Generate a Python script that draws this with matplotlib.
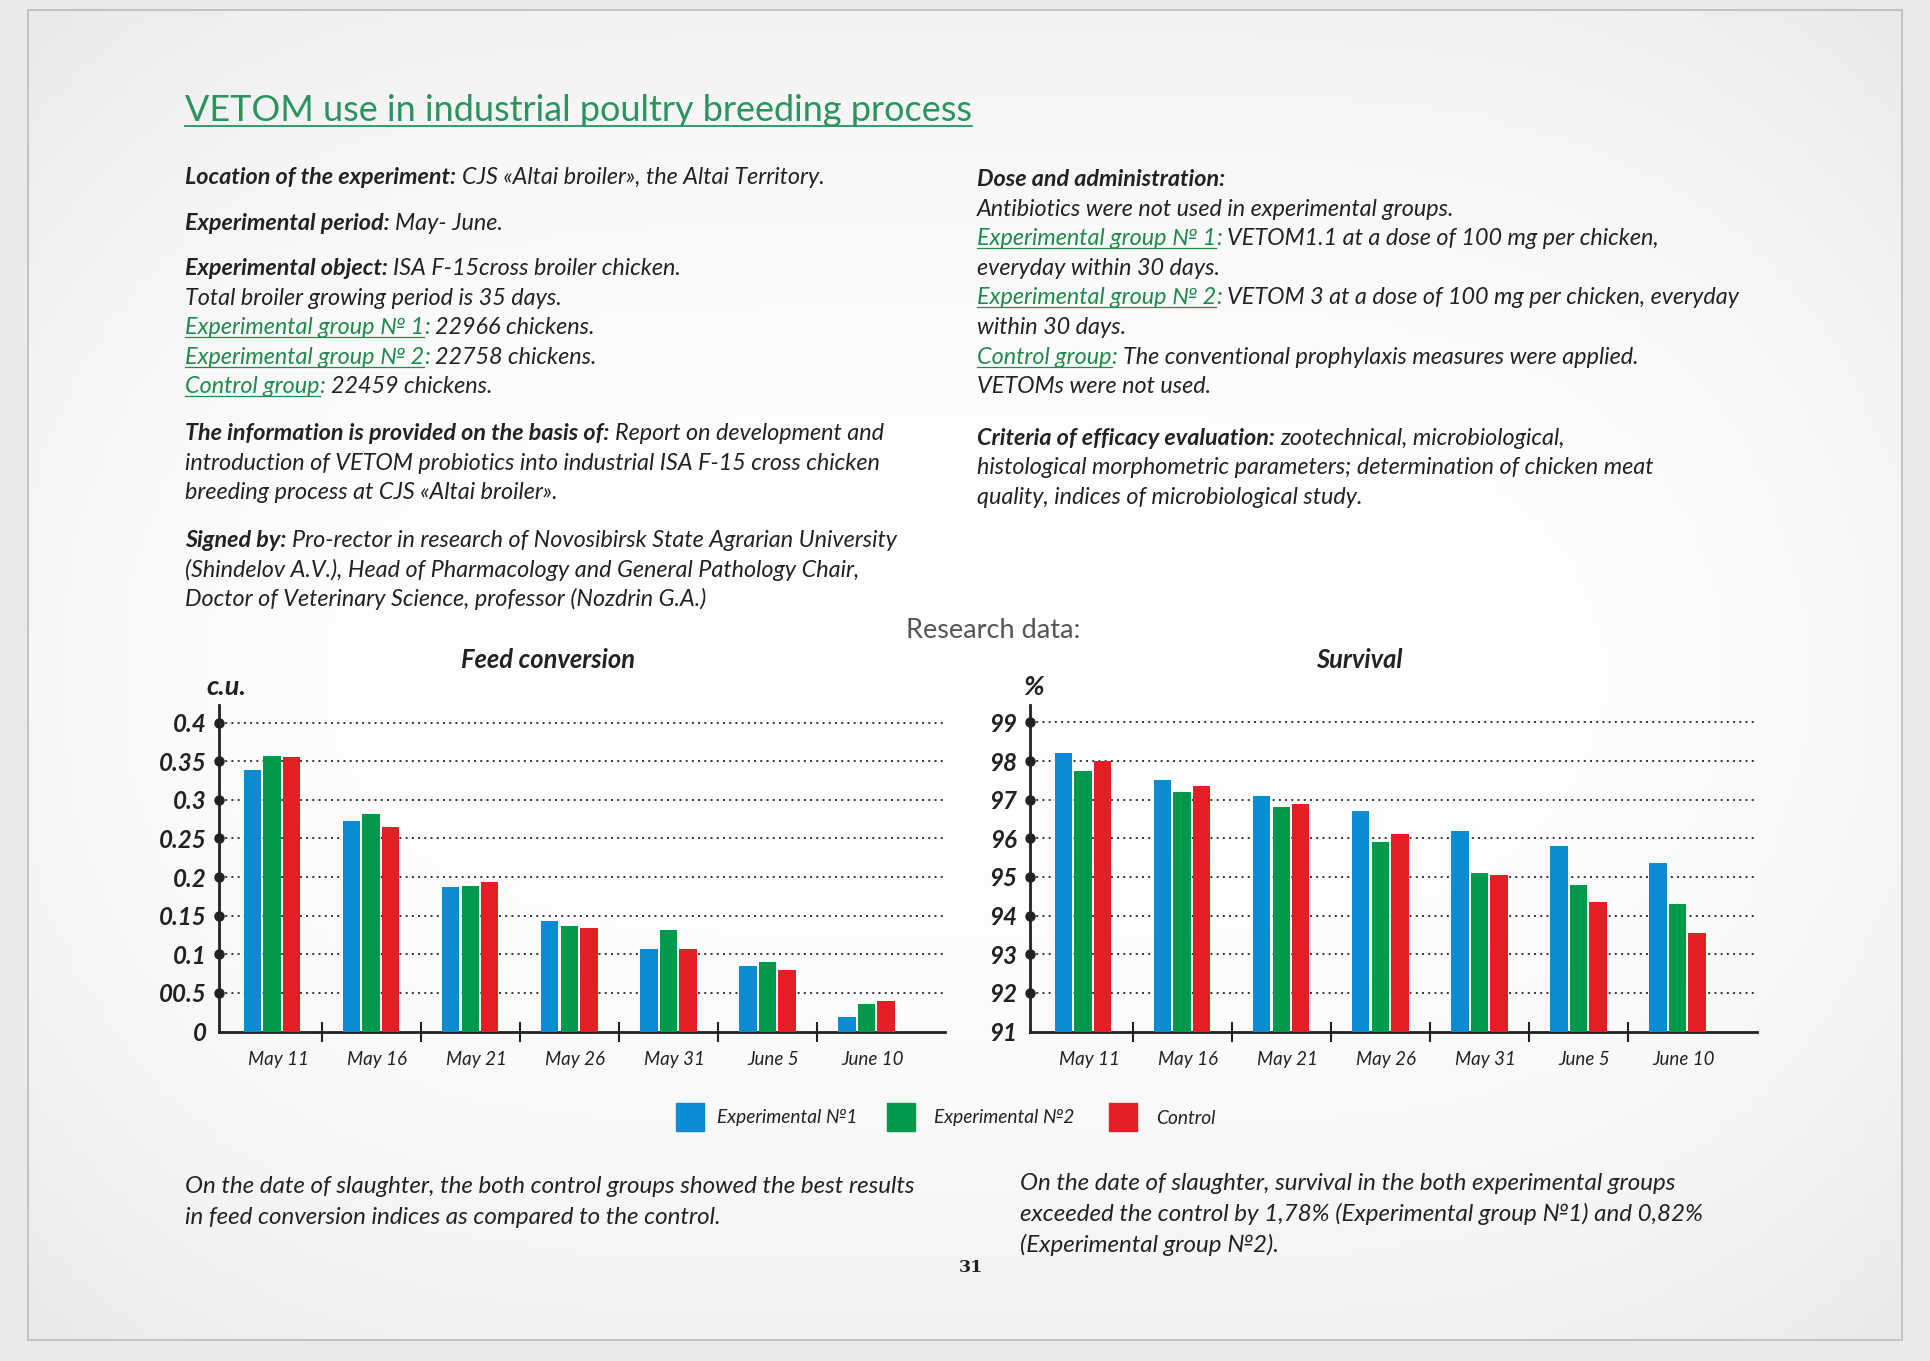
import numpy as np
import matplotlib
matplotlib.use("Agg")
import matplotlib.pyplot as plt
from matplotlib.patches import Rectangle
from matplotlib.lines import Line2D

# --- data ---
dates = ['May 11', 'May 16', 'May 21', 'May 26', 'May 31', 'June 5', 'June 10']
series = ['Experimental №1', 'Experimental №2', 'Control']
colors = ['#0a8bd3', '#00994b', '#e31e25']

feed_exp1 = [0.339, 0.272, 0.187, 0.143, 0.107, 0.085, 0.019]
feed_exp2 = [0.357, 0.282, 0.189, 0.136, 0.131, 0.090, 0.035]
feed_ctrl = [0.356, 0.265, 0.193, 0.134, 0.107, 0.079, 0.040]
feed_ticks = [0, 0.05, 0.1, 0.15, 0.2, 0.25, 0.3, 0.35, 0.4]
feed_ticklabels = ['0', '00.5', '0.1', '0.15', '0.2', '0.25', '0.3', '0.35', '0.4']

surv_exp1 = [98.2, 97.5, 97.1, 96.7, 96.2, 95.8, 95.36]
surv_exp2 = [97.75, 97.2, 96.8, 95.9, 95.1, 94.8, 94.3]
surv_ctrl = [98.0, 97.35, 96.9, 96.1, 95.05, 94.35, 93.56]
surv_ticks = [91, 92, 93, 94, 95, 96, 97, 98, 99]
surv_ticklabels = [str(t) for t in surv_ticks]

W, H = 1930, 1361
FONT = ['Lato', 'DejaVu Sans']
DARK = '#222222'
LINK = '#1f8a4c'
BODY = 16.8

fig = plt.figure(figsize=(W / 100, H / 100), dpi=100, facecolor='#e9eae9')
renderer = fig.canvas.get_renderer()

# the sheet: soft vignette inside a thin grey frame
bg = fig.add_axes([0, 0, 1, 1], zorder=-10)
ny = np.linspace(-1, 1, 300)[:, None]
nx = np.linspace(-1, 1, 300)[None, :]
v = 1 - 0.05 * ny ** 2 - 0.035 * nx ** 4
bg.imshow(np.dstack([v, v, v]), extent=(28, 1902, 1340, 10), aspect='auto')
bg.add_patch(Rectangle((28, 10), 1874, 1330, fill=False, ec='#bcbcbc', lw=1.2))
bg.set_xlim(0, W); bg.set_ylim(H, 0); bg.axis('off')


def px(x, y):
    return x / W, 1 - y / H


STY = {
    'b': dict(color=DARK, style='italic', weight='bold'),
    'i': dict(color=DARK, style='italic'),
    'g': dict(color=LINK, style='italic'),
    'c': dict(color=LINK, style='italic'),
}


def rich_line(x, y, parts, size=BODY):
    """Draw one line built from styled pieces, left to right (y = baseline, px from top)."""
    for txt, kind in parts:
        if txt.startswith(' '):
            x += 0.24 * size * 100 / 72
            txt = txt.lstrip()
        t = fig.text(*px(x, y), txt, fontsize=size, family=FONT, va='baseline', ha='left', **STY[kind])
        bb = t.get_window_extent(renderer)
        if kind == 'g':
            fig.add_artist(Line2D([x / W, bb.x1 / W], [1 - (y + 3) / H] * 2, color=LINK, lw=0.9))
        x = bb.x1


# title
t = fig.text(*px(185, 121), 'VETOM use in industrial poultry breeding process', fontsize=25.9,
             family=FONT, color='#2a935e', va='baseline')
bb = t.get_window_extent(renderer)
fig.add_artist(Line2D([185 / W, bb.x1 / W], [1 - 126 / H] * 2, color='#2a935e', lw=1.3))

left_lines = [
    (184, [('Location of the experiment:', 'b'), (' CJS «Altai broiler», the Altai Territory.', 'i')]),
    (230, [('Experimental period:', 'b'), (' May- June.', 'i')]),
    (275, [('Experimental object:', 'b'), (' ISA F-15cross broiler chicken.', 'i')]),
    (305, [('Total broiler growing period is 35 days.', 'i')]),
    (334, [('Experimental group № 1', 'g'), (':', 'c'), (' 22966 chickens.', 'i')]),
    (364, [('Experimental group № 2', 'g'), (':', 'c'), (' 22758 chickens.', 'i')]),
    (393, [('Control group', 'g'), (':', 'c'), (' 22459 chickens.', 'i')]),
    (440, [('The information is provided on the basis of:', 'b'), (' Report on development and', 'i')]),
    (470, [('introduction of VETOM probiotics into industrial ISA F-15 cross chicken', 'i')]),
    (499, [('breeding process at CJS «Altai broiler».', 'i')]),
    (547, [('Signed by:', 'b'), (' Pro-rector in research of Novosibirsk State Agrarian University', 'i')]),
    (577, [('(Shindelov A.V.), Head of Pharmacology and General Pathology Chair,', 'i')]),
    (606, [('Doctor of Veterinary Science, professor (Nozdrin G.A.)', 'i')]),
]
right_lines = [
    (186, [('Dose and administration:', 'b')]),
    (216, [('Antibiotics were not used in experimental groups.', 'i')]),
    (245, [('Experimental group № 1', 'g'), (':', 'c'), (' VETOM1.1 at a dose of 100 mg per chicken,', 'i')]),
    (275, [('everyday within 30 days.', 'i')]),
    (304, [('Experimental group № 2', 'g'), (':', 'c'), (' VETOM 3 at a dose of 100 mg per chicken, everyday', 'i')]),
    (334, [('within 30 days.', 'i')]),
    (364, [('Control group', 'g'), (':', 'c'), (' The conventional prophylaxis measures were applied.', 'i')]),
    (393, [('VETOMs were not used.', 'i')]),
    (445, [('Criteria of efficacy evaluation:', 'b'), (' zootechnical, microbiological,', 'i')]),
    (474, [('histological morphometric parameters; determination of chicken meat', 'i')]),
    (504, [('quality, indices of microbiological study.', 'i')]),
]
for y, parts in left_lines:
    rich_line(185, y, parts)
for y, parts in right_lines:
    rich_line(977, y, parts)

fig.text(*px(993, 630.5), 'Research data:', fontsize=19.5, family=FONT,
         color='#555555', ha='center', va='center')


def bar_chart(left, width, groups, ticks, ticklabels, ylim, title, unit, unit_x):
    ax = fig.add_axes([left / W, 1 - 1031.5 / H, width / W, 326.5 / H])
    ax.patch.set_alpha(0)
    x = np.arange(len(dates))
    for k, (vals, col) in enumerate(zip(groups, colors)):
        ax.bar(x + (k - 1) * 0.197, vals, width=0.175, color=col, zorder=3)
    ax.set_xlim(-0.535, -0.535 + width / 99.1)
    ax.set_ylim(*ylim)
    for tk in ticks[1:]:
        ax.axhline(tk, color='#333333', lw=1.4, ls=(0, (1, 2.2)), zorder=1)
    ax.plot([0] * (len(ticks) - 1), ticks[1:], 'o', color=DARK, ms=6.5,
            transform=ax.get_yaxis_transform(), clip_on=False, zorder=5)
    for s in ('top', 'right'):
        ax.spines[s].set_visible(False)
    for s in ('left', 'bottom'):
        ax.spines[s].set_color(DARK)
        ax.spines[s].set_linewidth(2)
    ax.set_yticks(ticks)
    ax.set_yticklabels(ticklabels, fontsize=17.4, family=FONT, weight='bold', style='italic', color=DARK)
    ax.tick_params(axis='y', length=0, pad=9)
    ax.set_xticks(x[:-1] + 0.5)
    ax.set_xticklabels([])
    ax.tick_params(axis='x', which='major', direction='inout', length=14, width=1.5, color=DARK)
    ax.set_xticks(x + 0.06, minor=True)
    ax.set_xticklabels(dates, minor=True, fontsize=13.5, family=FONT, style='italic', color=DARK)
    ax.tick_params(axis='x', which='minor', length=0, pad=14)
    fig.text(*px(left + 329, 660), title, fontsize=18.4, family=FONT, weight='bold', style='italic',
             color=DARK, ha='center', va='center')
    fig.text(*px(unit_x, 687), unit, fontsize=19.5, family=FONT, weight='bold', style='italic',
             color=DARK, ha='left', va='center')
    return ax


bar_chart(219, 726, [feed_exp1, feed_exp2, feed_ctrl], feed_ticks, feed_ticklabels,
          (0, 0.4227), 'Feed conversion', 'c.u.', 206)
bar_chart(1030, 727, [surv_exp1, surv_exp2, surv_ctrl], surv_ticks, surv_ticklabels,
          (91, 99.45), 'Survival', '%', 1023)

# legend
for name, col, sx, lx in zip(series, colors, [676, 887, 1109], [717, 934, 1156]):
    fig.add_artist(Rectangle(px(sx, 1131), 28 / W, 28 / H, color=col, transform=fig.transFigure))
    fig.text(*px(lx, 1118), name, fontsize=13.8, family=FONT, style='italic', color=DARK, va='center')

# conclusions under the charts
rich_line(185, 1193, [('On the date of slaughter, the both control groups showed the best results', 'i')], 17.4)
rich_line(185, 1224, [('in feed conversion indices as compared to the control.', 'i')], 17.4)
rich_line(1020, 1190, [('On the date of slaughter, survival in the both experimental groups', 'i')], 17.4)
rich_line(1020, 1221, [('exceeded the control by 1,78% (Experimental group №1) and 0,82%', 'i')], 17.4)
rich_line(1020, 1252, [('(Experimental group №2).', 'i')], 17.4)

fig.text(*px(971, 1267), '31', fontsize=12.5, family='DejaVu Serif', weight='bold', color=DARK,
         ha='center', va='center')

fig.savefig('out.png', dpi=100, facecolor=fig.get_facecolor())
